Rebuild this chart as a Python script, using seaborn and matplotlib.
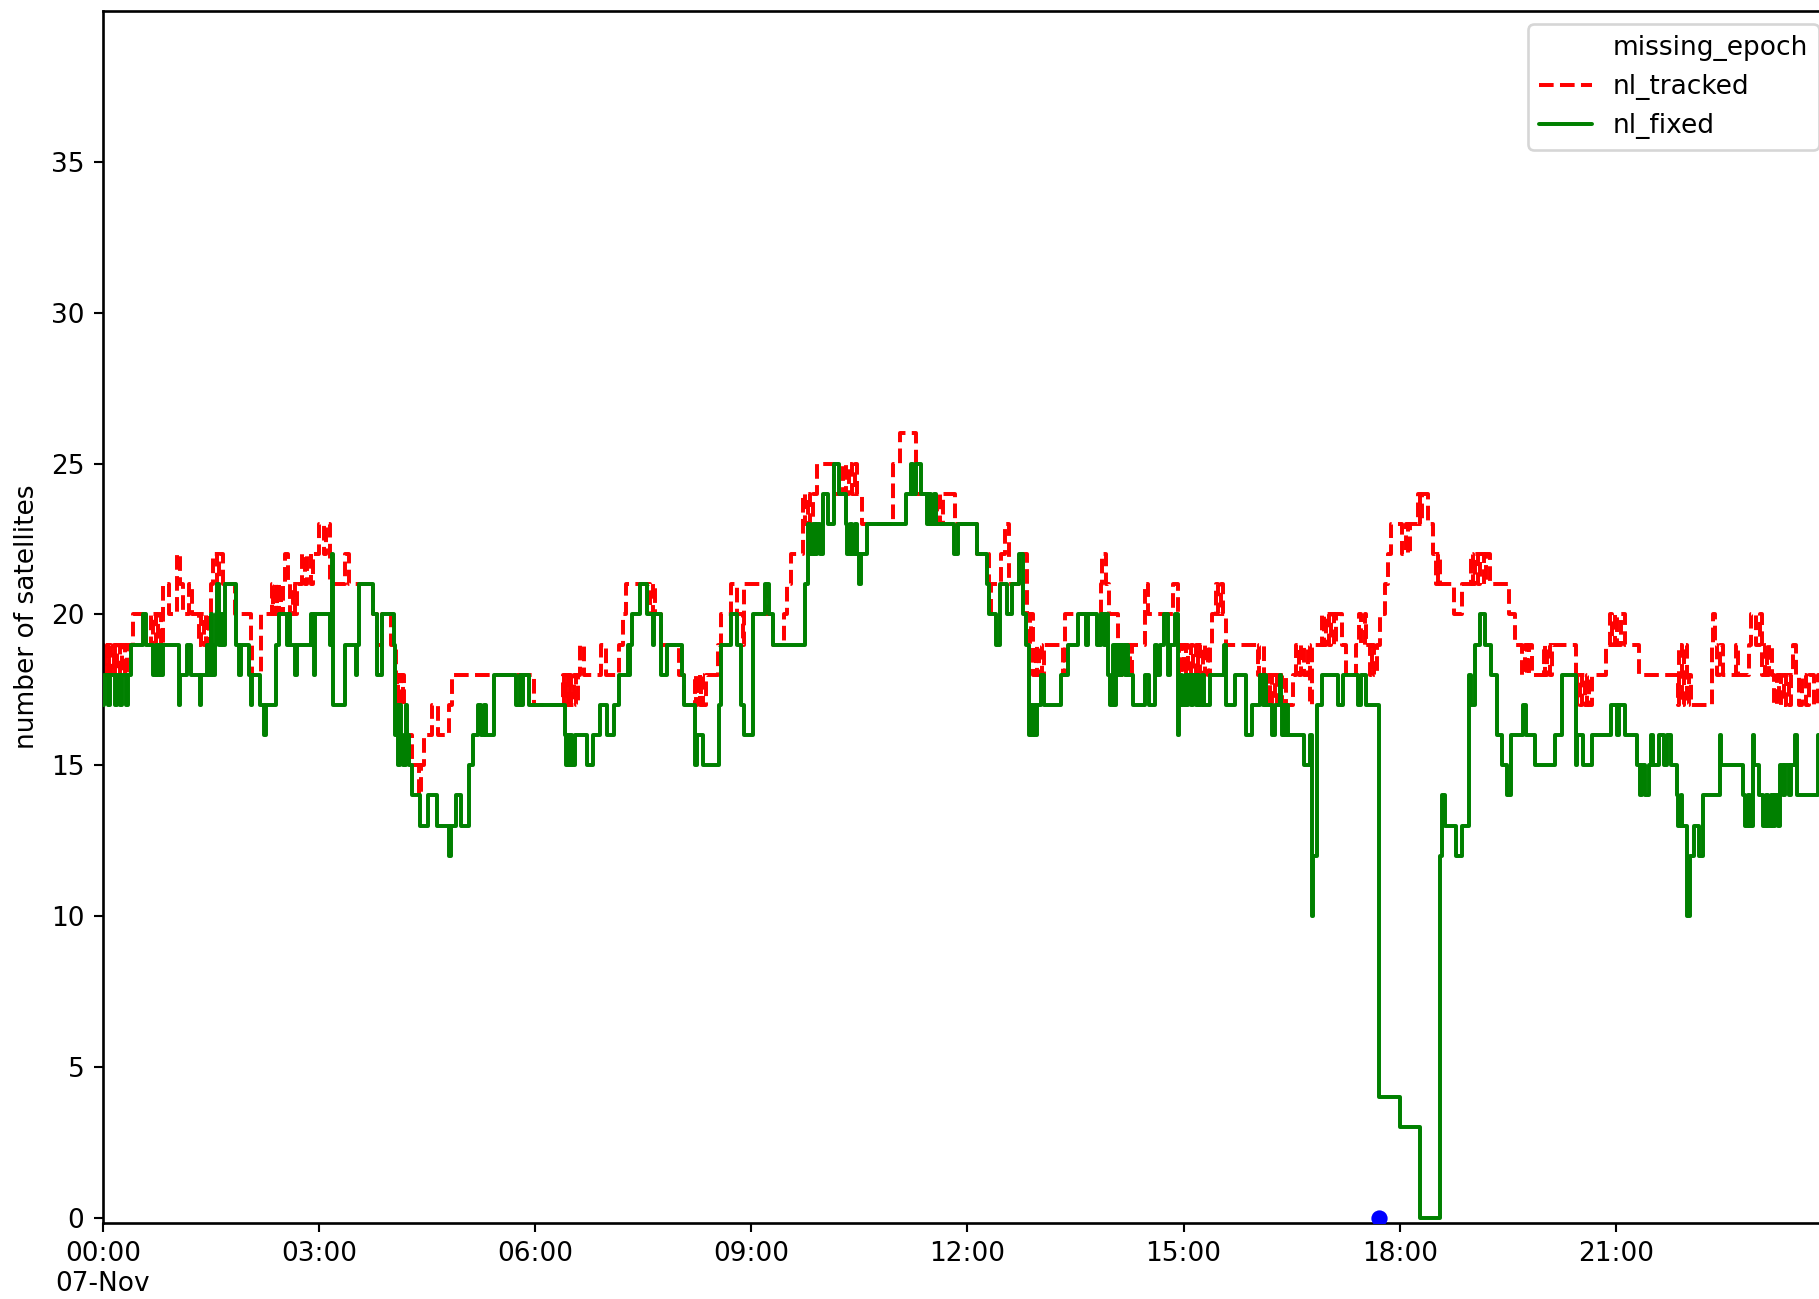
import pandas as pd
import matplotlib
matplotlib.use("Agg")
import matplotlib.pyplot as plt
from matplotlib.lines import Line2D
import seaborn as sns

# ── Data (change points of the step series) ─────────────────────────────────
DAY = "2021-11-07"

NL_TRACKED = [
    ("00:00", 19), ("00:01", 18), ("00:02", 19), ("00:04", 18), ("00:05", 19), ("00:07", 18),
    ("00:09", 19), ("00:10", 18), ("00:12", 19), ("00:14", 18), ("00:16", 19), ("00:18", 18),
    ("00:20", 19), ("00:25", 20), ("00:40", 19), ("00:42", 20), ("00:44", 19), ("00:46", 20),
    ("00:48", 19), ("00:50", 21), ("00:55", 20), ("01:02", 22), ("01:04", 21), ("01:07", 20),
    ("01:12", 21), ("01:14", 20), ("01:20", 19), ("01:22", 20), ("01:24", 19), ("01:26", 20),
    ("01:28", 19), ("01:30", 21), ("01:32", 22), ("01:35", 21), ("01:37", 22), ("01:40", 21),
    ("01:50", 20), ("02:03", 19), ("02:04", 18), ("02:12", 20), ("02:21", 21), ("02:22", 20),
    ("02:24", 21), ("02:25", 20), ("02:27", 21), ("02:28", 20), ("02:30", 21), ("02:32", 22),
    ("02:34", 21), ("02:36", 20), ("02:38", 21), ("02:40", 20), ("02:42", 21), ("02:46", 22),
    ("02:48", 21), ("02:50", 22), ("02:53", 21), ("02:55", 22), ("03:00", 23), ("03:04", 22),
    ("03:06", 23), ("03:09", 21), ("03:22", 22), ("03:25", 21), ("03:45", 20), ("03:48", 19),
    ("03:52", 20), ("04:00", 19), ("04:04", 18), ("04:05", 17), ("04:06", 18), ("04:08", 17),
    ("04:10", 18), ("04:11", 17), ("04:13", 16), ("04:17", 15), ("04:23", 14), ("04:25", 15),
    ("04:27", 16), ("04:34", 17), ("04:39", 16), ("04:48", 17), ("04:51", 18), ("05:59", 17),
    ("06:23", 18), ("06:24", 17), ("06:26", 18), ("06:27", 17), ("06:29", 18), ("06:30", 17),
    ("06:32", 18), ("06:34", 17), ("06:36", 18), ("06:37", 19), ("06:41", 18), ("06:55", 19),
    ("06:59", 18), ("07:10", 19), ("07:13", 20), ("07:16", 21), ("07:36", 20), ("07:38", 21),
    ("07:40", 20), ("07:45", 19), ("08:00", 18), ("08:04", 17), ("08:13", 18), ("08:14", 17),
    ("08:15", 18), ("08:17", 17), ("08:18", 18), ("08:20", 17), ("08:22", 18), ("08:32", 19),
    ("08:35", 20), ("08:43", 21), ("08:48", 20), ("08:53", 19), ("08:54", 21), ("09:12", 20),
    ("09:18", 19), ("09:27", 20), ("09:30", 21), ("09:33", 22), ("09:43", 24), ("09:45", 23),
    ("09:47", 24), ("09:49", 23), ("09:51", 24), ("09:55", 25), ("10:09", 24), ("10:16", 25),
    ("10:19", 24), ("10:21", 25), ("10:24", 24), ("10:26", 25), ("10:28", 24), ("10:32", 23),
    ("10:58", 25), ("11:04", 26), ("11:17", 24), ("11:29", 23), ("11:31", 24), ("11:33", 23),
    ("11:35", 24), ("11:37", 23), ("11:40", 24), ("11:50", 23), ("12:08", 22), ("12:18", 20),
    ("12:20", 21), ("12:28", 22), ("12:31", 23), ("12:35", 21), ("12:43", 22), ("12:50", 20),
    ("12:52", 19), ("12:53", 20), ("12:55", 18), ("12:57", 19), ("12:58", 18), ("13:00", 19),
    ("13:02", 18), ("13:04", 19), ("13:20", 18), ("13:21", 20), ("13:51", 21), ("13:52", 22),
    ("13:55", 21), ("13:58", 20), ("14:05", 19), ("14:08", 18), ("14:11", 19), ("14:15", 18),
    ("14:17", 19), ("14:28", 21), ("14:30", 20), ("14:51", 21), ("14:55", 19), ("14:56", 18),
    ("14:58", 19), ("15:00", 18), ("15:02", 19), ("15:04", 18), ("15:06", 19), ("15:08", 18),
    ("15:10", 19), ("15:12", 18), ("15:14", 19), ("15:16", 18), ("15:18", 19), ("15:20", 18),
    ("15:22", 19), ("15:24", 20), ("15:27", 21), ("15:29", 20), ("15:31", 21), ("15:33", 20),
    ("15:35", 19), ("16:02", 18), ("16:03", 19), ("16:07", 18), ("16:08", 17), ("16:10", 18),
    ("16:12", 17), ("16:14", 18), ("16:16", 17), ("16:18", 18), ("16:20", 17), ("16:22", 18),
    ("16:25", 17), ("16:31", 18), ("16:34", 19), ("16:36", 18), ("16:38", 19), ("16:40", 18),
    ("16:44", 19), ("16:45", 17), ("16:47", 19), ("16:55", 20), ("16:57", 19), ("16:59", 20),
    ("17:01", 19), ("17:03", 20), ("17:05", 19), ("17:07", 20), ("17:12", 19), ("17:15", 18),
    ("17:24", 19), ("17:26", 20), ("17:28", 19), ("17:31", 20), ("17:32", 19), ("17:35", 18),
    ("17:37", 19), ("17:39", 18), ("17:41", 19), ("17:44", 20), ("17:48", 21), ("17:50", 22),
    ("17:53", 23), ("18:02", 22), ("18:05", 23), ("18:07", 22), ("18:09", 23), ("18:15", 24),
    ("18:17", 23), ("18:19", 24), ("18:24", 23), ("18:28", 22), ("18:30", 21), ("18:32", 22),
    ("18:34", 21), ("18:45", 20),
    ("18:52", 21), ("18:59", 22), ("19:01", 21), ("19:03", 22), ("19:05", 21), ("19:07", 22),
    ("19:10", 21), ("19:12", 22), ("19:15", 21), ("19:31", 20), ("19:36", 19), ("19:42", 18),
    ("19:44", 19), ("19:46", 18), ("19:48", 19), ("19:50", 18), ("20:00", 19), ("20:01", 18),
    ("20:03", 19), ("20:05", 18), ("20:07", 19), ("20:27", 17), ("20:28", 18), ("20:30", 17),
    ("20:32", 18), ("20:34", 17), ("20:36", 18), ("20:38", 17), ("20:40", 18), ("20:52", 19),
    ("20:55", 20), ("20:57", 19), ("20:59", 20), ("21:01", 19), ("21:04", 20), ("21:08", 19),
    ("21:19", 18), ("21:52", 17), ("21:53", 19), ("21:55", 17), ("21:57", 19), ("21:59", 17),
    ("22:01", 18), ("22:03", 17), ("22:20", 19), ("22:21", 20), ("22:23", 19), ("22:24", 18),
    ("22:27", 19), ("22:29", 18), ("22:40", 19), ("22:42", 18), ("22:51", 19), ("22:53", 20),
    ("22:57", 19), ("23:00", 20), ("23:02", 18), ("23:04", 19), ("23:06", 18), ("23:08", 19),
    ("23:10", 18), ("23:12", 17), ("23:14", 18), ("23:16", 17), ("23:18", 18), ("23:20", 17),
    ("23:22", 18), ("23:24", 17), ("23:26", 18), ("23:28", 19), ("23:30", 18), ("23:33", 17),
    ("23:35", 18), ("23:38", 17), ("23:41", 18), ("23:45", 17), ("23:48", 18), ("23:59", 18),
]

NL_FIXED = [
    ("00:00", 17), ("00:01", 18), ("00:04", 17), ("00:06", 18), ("00:10", 17), ("00:12", 18),
    ("00:14", 17), ("00:16", 18), ("00:19", 17), ("00:21", 18), ("00:23", 19), ("00:33", 20),
    ("00:36", 19), ("00:42", 18), ("00:44", 19), ("00:45", 18), ("00:47", 19), ("00:48", 18),
    ("00:50", 19), ("01:03", 17), ("01:04", 18), ("01:10", 19), ("01:13", 18), ("01:21", 17),
    ("01:22", 18), ("01:27", 19), ("01:28", 18), ("01:30", 20), ("01:31", 18), ("01:33", 19),
    ("01:34", 20), ("01:35", 21), ("01:37", 19), ("01:38", 20), ("01:40", 19), ("01:42", 21),
    ("01:51", 19), ("01:53", 18), ("01:55", 19), ("02:02", 18), ("02:03", 17), ("02:04", 18),
    ("02:11", 17), ("02:14", 16), ("02:16", 17), ("02:24", 19), ("02:27", 20), ("02:33", 19),
    ("02:35", 20), ("02:36", 19), ("02:40", 18), ("02:42", 19), ("02:53", 20), ("02:55", 19),
    ("02:56", 18), ("02:57", 20), ("03:09", 19), ("03:11", 22), ("03:12", 17), ("03:22", 19),
    ("03:31", 18), ("03:32", 19), ("03:33", 21), ("03:45", 20), ("03:48", 18), ("03:52", 20),
    ("04:02", 19), ("04:03", 16), ("04:04", 17), ("04:06", 15), ("04:07", 17), ("04:08", 16),
    ("04:10", 15), ("04:12", 17), ("04:13", 16), ("04:15", 15), ("04:17", 14), ("04:24", 13),
    ("04:31", 14), ("04:38", 13), ("04:48", 12), ("04:50", 13), ("04:54", 14), ("04:58", 13),
    ("05:05", 15), ("05:08", 16), ("05:12", 17), ("05:15", 16), ("05:17", 17), ("05:19", 16),
    ("05:26", 18), ("05:44", 17), ("05:47", 18), ("05:48", 17), ("05:50", 18), ("05:55", 17),
    ("06:25", 16), ("06:26", 15), ("06:27", 16), ("06:28", 15), ("06:30", 16), ("06:31", 15),
    ("06:33", 16), ("06:43", 15), ("06:48", 16), ("06:54", 17), ("07:00", 16), ("07:06", 17),
    ("07:10", 18), ("07:17", 19), ("07:18", 18), ("07:19", 19), ("07:21", 20), ("07:27", 21),
    ("07:33", 20), ("07:38", 19), ("07:39", 20), ("07:45", 18), ("07:50", 19), ("08:02", 18),
    ("08:04", 17), ("08:13", 15), ("08:15", 16), ("08:20", 15), ("08:33", 17), ("08:35", 19),
    ("08:43", 20), ("08:48", 19), ("08:51", 17), ("08:54", 16), ("09:01", 20), ("09:11", 21),
    ("09:15", 20), ("09:18", 19), ("09:45", 21), ("09:47", 23), ("09:49", 22), ("09:51", 23),
    ("09:53", 22), ("09:55", 23), ("09:57", 22), ("10:00", 24), ("10:04", 23), ("10:09", 25),
    ("10:13", 24), ("10:19", 23), ("10:20", 22), ("10:22", 23), ("10:24", 22), ("10:26", 23),
    ("10:28", 22), ("10:30", 21), ("10:31", 22), ("10:36", 23), ("11:09", 24), ("11:13", 25),
    ("11:15", 24), ("11:17", 25), ("11:21", 24), ("11:26", 23), ("11:28", 24), ("11:30", 23),
    ("11:32", 24), ("11:34", 23), ("11:49", 22), ("11:52", 23), ("12:08", 22), ("12:16", 21),
    ("12:18", 20), ("12:24", 19), ("12:27", 21), ("12:33", 20), ("12:37", 21), ("12:43", 22),
    ("12:46", 20), ("12:49", 19), ("12:51", 16), ("12:52", 17), ("12:53", 16), ("12:55", 17),
    ("12:56", 16), ("12:58", 17), ("13:01", 18), ("13:04", 17), ("13:18", 18), ("13:24", 19),
    ("13:32", 20), ("13:39", 19), ("13:40", 20), ("13:48", 19), ("13:51", 20), ("13:54", 19),
    ("13:55", 20), ("13:57", 18), ("13:59", 17), ("14:01", 19), ("14:03", 17), ("14:04", 19),
    ("14:05", 18), ("14:06", 19), ("14:08", 18), ("14:09", 19), ("14:11", 18), ("14:12", 19),
    ("14:14", 18), ("14:18", 17), ("14:28", 18), ("14:31", 17), ("14:36", 19), ("14:38", 18),
    ("14:40", 19), ("14:44", 20), ("14:47", 18), ("14:49", 19), ("14:53", 20), ("14:55", 16),
    ("14:56", 17), ("14:58", 18), ("14:59", 17), ("15:01", 18), ("15:02", 17), ("15:04", 18),
    ("15:06", 17), ("15:08", 18), ("15:10", 17), ("15:12", 18), ("15:13", 17), ("15:15", 18),
    ("15:17", 17), ("15:22", 18), ("15:34", 19), ("15:35", 17), ("15:43", 18), ("15:52", 16),
    ("15:57", 17), ("16:04", 18), ("16:06", 17), ("16:08", 18), ("16:09", 17), ("16:14", 16),
    ("16:16", 17), ("16:20", 18), ("16:21", 17), ("16:22", 16), ("16:23", 17), ("16:24", 16),
    ("16:25", 17), ("16:27", 16), ("16:40", 15), ("16:45", 16), ("16:47", 10), ("16:48", 12),
    ("16:51", 17), ("16:55", 18), ("17:09", 17), ("17:13", 18), ("17:25", 17), ("17:28", 18),
    ("17:32", 17), ("17:43", 4), ("18:00", 3), ("18:17", 0), ("18:34", 12), ("18:35", 14),
    ("18:38", 13), ("18:47", 12), ("18:52", 13), ("18:58", 18), ("18:59", 17), ("19:03", 19),
    ("19:07", 20), ("19:11", 19), ("19:16", 18), ("19:21", 16), ("19:25", 15), ("19:29", 14),
    ("19:33", 16), ("19:43", 17), ("19:45", 16), ("19:53", 15), ("20:09", 16), ("20:15", 18),
    ("20:27", 15), ("20:28", 16), ("20:33", 15), ("20:40", 16), ("20:56", 17), ("21:01", 16),
    ("21:03", 17), ("21:08", 16), ("21:18", 15), ("21:20", 14), ("21:22", 15), ("21:24", 14),
    ("21:28", 15), ("21:29", 16), ("21:31", 15), ("21:36", 16), ("21:40", 15), ("21:43", 16),
    ("21:46", 15), ("21:51", 14), ("21:52", 13), ("21:54", 14), ("21:55", 13), ("21:59", 10),
    ("22:02", 12), ("22:05", 13), ("22:09", 12), ("22:13", 14), ("22:27", 16), ("22:28", 15),
    ("22:46", 14), ("22:48", 13), ("22:50", 14), ("22:52", 13), ("22:54", 16), ("22:55", 15),
    ("22:59", 14), ("23:03", 13), ("23:05", 14), ("23:07", 13), ("23:09", 14), ("23:11", 13),
    ("23:13", 14), ("23:15", 13), ("23:17", 15), ("23:19", 14), ("23:21", 15), ("23:24", 14),
    ("23:26", 15), ("23:29", 16), ("23:31", 14), ("23:48", 16), ("23:59", 16),
]

MISSING_EPOCH_TIMES = ["17:43"]
MISSING_EPOCH_VALUES = [0]

X_TICKS = ["00:00", "03:00", "06:00", "09:00", "12:00", "15:00", "18:00", "21:00"]
X_TICK_LABELS = ["00:00\n07-Nov", "03:00", "06:00", "09:00", "12:00", "15:00", "18:00", "21:00"]
Y_TICKS = [0, 5, 10, 15, 20, 25, 30, 35]


def to_frame(pairs):
    df = pd.DataFrame(pairs, columns=["clock", "value"])
    df["time"] = pd.to_datetime(DAY + " " + df["clock"])
    return df


def stamp(clock):
    return pd.Timestamp(DAY + " " + clock)


sns.set_style("ticks")
plt.rcParams.update({
    "font.family": ["DejaVu Sans"],
    "font.size": 10,
    "text.color": "black",
    "axes.labelcolor": "black",
    "axes.edgecolor": "black",
    "axes.linewidth": 1.0,
    "xtick.color": "black",
    "ytick.color": "black",
    "xtick.major.width": 0.8,
    "ytick.major.width": 0.8,
})

tracked = to_frame(NL_TRACKED)
fixed = to_frame(NL_FIXED)
missing = pd.DataFrame({
    "time": [stamp(c) for c in MISSING_EPOCH_TIMES],
    "value": MISSING_EPOCH_VALUES,
})

fig = plt.figure(figsize=(1819 / 190, 1299 / 190), dpi=190)
# axes run slightly past the right edge, as in the reference
ax = fig.add_axes([0.0566, 0.0585, 0.9505, 0.933])

sns.scatterplot(data=missing, x="time", y="value", ax=ax, color="blue",
                s=38, linewidth=0, zorder=4, legend=False)
sns.lineplot(data=tracked, x="time", y="value", ax=ax, color="red",
             linestyle="--", linewidth=1.5, drawstyle="steps-post",
             errorbar=None, legend=False, zorder=2)
sns.lineplot(data=fixed, x="time", y="value", ax=ax, color="green",
             linewidth=1.5, drawstyle="steps-post",
             errorbar=None, legend=False, zorder=3)

ax.set_xlim(stamp("00:00"), stamp("23:59") + pd.Timedelta(seconds=60))
ax.set_ylim(-0.17, 40)
ax.set_xticks([stamp(t) for t in X_TICKS])
ax.set_xticklabels(X_TICK_LABELS)
ax.set_yticks(Y_TICKS)
ax.set_xlabel("")
ax.set_ylabel("number of satellites", color="black")
ax.tick_params(axis="both", labelsize=10, length=3.5, colors="black")

handles = [
    Line2D([], [], linestyle="None", marker="None"),
    Line2D([], [], color="red", linestyle="--", linewidth=1.5),
    Line2D([], [], color="green", linewidth=1.5),
]
leg = ax.legend(handles, ["missing_epoch", "nl_tracked", "nl_fixed"], loc="upper right")
for txt in leg.get_texts():
    txt.set_color("black")

fig.savefig("out.png", dpi=190)
